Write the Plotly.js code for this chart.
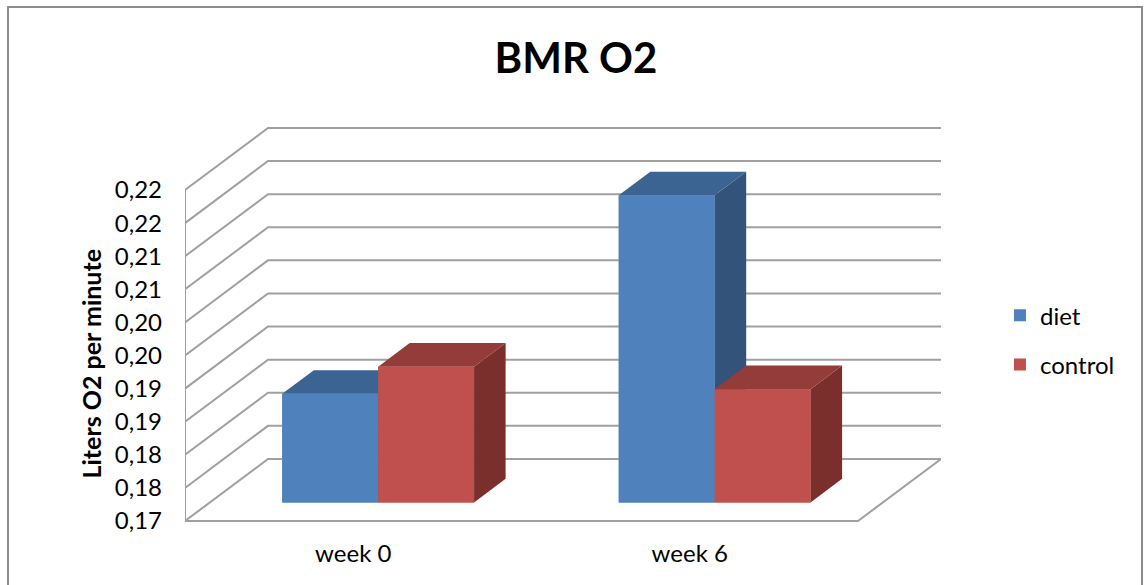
<!DOCTYPE html>
<html>
<head>
<meta charset="utf-8">
<script src="https://cdn.plot.ly/plotly-3.0.1.min.js"></script>
<style>html,body{margin:0;padding:0;background:#fff;}#chart{width:1145px;height:585px;}</style>
</head>
<body>
<div id="chart"></div>
<script>
// ---- data ----
const categories = ['week 0', 'week 6'];
const seriesNames = ['diet', 'control'];
const diet = [0.1864, 0.2164];
const control = [0.1905, 0.1871];
const tickValues = [0.17, 0.175, 0.18, 0.185, 0.19, 0.195, 0.2, 0.205, 0.21, 0.215, 0.22];
const tickLabels = ['0,17', '0,18', '0,18', '0,19', '0,19', '0,20', '0,20', '0,21', '0,21', '0,22', '0,22'];

// ---- pseudo-3D geometry (layout constants) ----
const FLOOR = 0.17;
const X0 = -0.5, X1 = categories.length - 0.5;
const DX = 0.2467, DY = 0.00937;   // depth offset of the back wall
const D0 = 0.30, BD = 0.38;        // bar front position and bar depth (fraction of depth)
const BW = 0.285;                  // bar width (category units)
const series = [diet, control];
const front = ['#4F81BD', '#C0504D'];
const topC = ['#3C6492', '#943C3A'];
const sideC = ['#33537B', '#7B2F2D'];
const font = 'Lato, "Open Sans", sans-serif';

const traces = [];
// bar traces (front faces, also legend)
series.forEach((vals, k) => {
  traces.push({
    type: 'bar', name: seriesNames[k], legendgroup: seriesNames[k],
    x: categories.map((c, i) => i + D0 * DX),
    y: vals.map(v => v - FLOOR),
    base: FLOOR + D0 * DY,
    width: BW, offset: k === 0 ? -BW : 0,
    marker: {color: front[k], line: {width: 0}},
    hoverinfo: 'skip'
  });
});

// walls and floor lines
const gx = [], gy = [];
tickValues.forEach(v => {
  gx.push(X0, X0 + DX, X1 + DX, null);
  gy.push(v, v + DY, v + DY, null);
});
gx.push(X0, X0, null, X0, X1, X1 + DX, null);
gy.push(tickValues[0], tickValues[tickValues.length - 1], null, FLOOR, FLOOR, FLOOR + DY, null);
traces.push({type: 'scatter', mode: 'lines', x: gx, y: gy, line: {color: '#a0a0a0', width: 2},
  showlegend: false, hoverinfo: 'skip'});

// faces in painter's order
const ddx = BD * DX, ddy = BD * DY;
categories.forEach((c, i) => {
  series.forEach((vals, k) => {
    const xl = i + D0 * DX + (k === 0 ? -BW : 0), xr = xl + BW;
    const B = FLOOR + D0 * DY, T = vals[i] + D0 * DY;
    const poly = (xs, ys, col) => traces.push({type: 'scatter', mode: 'lines', fill: 'toself',
      x: xs, y: ys, fillcolor: col, line: {width: 0, color: col}, showlegend: false, hoverinfo: 'skip'});
    poly([xr, xr, xr + ddx, xr + ddx, xr], [B, T, T + ddy, B + ddy, B], sideC[k]);
    poly([xl, xr, xr + ddx, xl + ddx, xl], [T, T, T + ddy, T + ddy, T], topC[k]);
    poly([xl, xr, xr, xl, xl], [B, B, T, T, B], front[k]);
  });
});

const layout = {
  width: 1145, height: 585,
  margin: {l: 185, r: 204, t: 120, b: 55},
  paper_bgcolor: '#ffffff', plot_bgcolor: '#ffffff',
  font: {family: font, color: '#000'},
  title: {text: 'BMR O2', font: {family: font, size: 42, weight: 'bold', color: '#000'},
    x: 576 / 1145, xanchor: 'center', xref: 'container', y: 1 - 58 / 585, yanchor: 'middle', yref: 'container'},
  showlegend: true,
  legend: {x: 1.078, xanchor: 'left', y: 0.463, yanchor: 'middle', font: {family: font, size: 24, color: '#000'},
    tracegroupgap: 15, bgcolor: 'rgba(0,0,0,0)'},
  xaxis: {range: [X0, X1 + DX], tickvals: categories.map((c, i) => i), ticktext: categories,
    showgrid: false, zeroline: false, showline: false, ticks: '', ticklabelstandoff: 7,
    tickfont: {family: font, size: 24, color: '#000'}, fixedrange: true},
  yaxis: {range: [0.17 - 9 / 6620, 0.17 + 401 / 6620], tickvals: tickValues, ticktext: tickLabels,
    showgrid: false, zeroline: false, showline: false, ticks: '', ticklabelstandoff: 22,
    tickfont: {family: font, size: 24, color: '#000'}, fixedrange: true},
  annotations: [{text: 'Liters O2 per minute', textangle: -90, xref: 'paper', yref: 'paper',
    x: (90 - 185) / 756, y: (530 - 364.5) / 410, xanchor: 'center', yanchor: 'middle', showarrow: false,
    font: {family: font, size: 25, weight: 'bold', color: '#000'}}],
  shapes: [{type: 'rect', xref: 'paper', yref: 'paper', x0: (8 - 185) / 756, x1: (1142 - 185) / 756,
    y0: -0.3, y1: (530 - 7) / 410, line: {color: '#8c8c8c', width: 2}, fillcolor: 'rgba(0,0,0,0)'}]
};

Plotly.newPlot('chart', traces, layout, {displayModeBar: false, staticPlot: true});
</script>
</body>
</html>
